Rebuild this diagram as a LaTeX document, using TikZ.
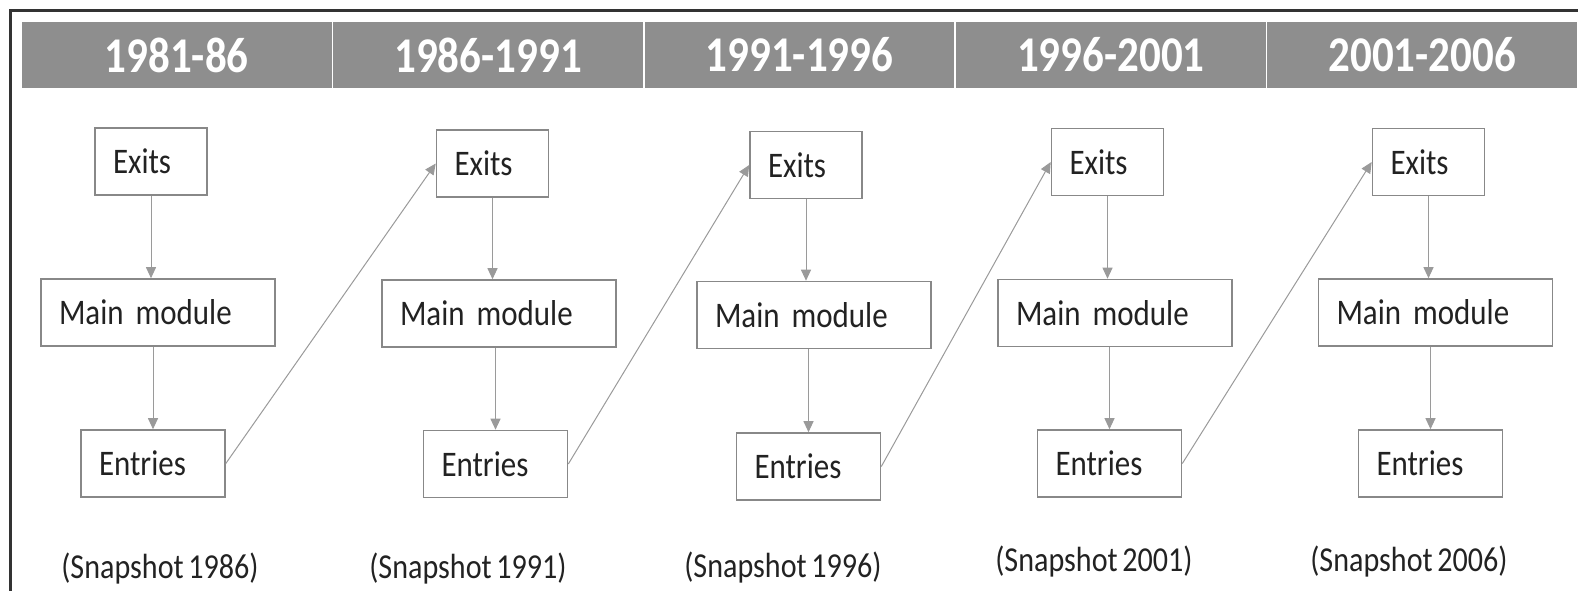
\documentclass[tikz,border=0pt]{standalone}
\usepackage{fontspec}
\setmainfont{Carlito}[FakeStretch=0.86,WordSpace=0.7]
\usetikzlibrary{arrows.meta}
\definecolor{hdr}{HTML}{8E8E8E}
\definecolor{boxc}{HTML}{888888}
\definecolor{arrc}{HTML}{9A9A9A}
\definecolor{txt}{HTML}{222222}
\definecolor{frm}{HTML}{333333}
\begin{document}
\begin{tikzpicture}[x=1pt,y=-1pt,
  box/.style={draw=boxc, line width=1.6pt, fill=white, minimum height=67pt,
    inner xsep=18pt, align=left, font=\fontsize{36}{40}\selectfont, text=txt},
  exitbox/.style={box, text width=76pt},
  mainbox/.style={box, text width=198pt},
  entrybox/.style={box, text width=108pt},
  hcell/.style={fill=hdr, draw=white, line width=1.5pt, minimum width=311.4pt,
    minimum height=68pt, inner sep=0pt, text=white,
    font=\fontsize{50}{54}\selectfont\bfseries},
  snap/.style={text=txt, font=\fontsize{35}{40}\selectfont, inner sep=0pt},
  arr/.style={draw=arrc, line width=1pt, -{Triangle[length=11pt,width=10pt]}},
  frame/.style={draw=frm, line width=2.5pt}]
\useasboundingbox (0,0) rectangle (1578,590);
\clip (0,0) rectangle (1578,590);
% frame
\draw[frame] (1580,10.5) -- (10.5,10.5) -- (10.5,592);
% header
\node[hcell] (h1) at (176.7,55) {1981-86};
\node[hcell] (h2) at (488.1,55) {1986-1991};
\node[hcell] (h3) at (799.5,55) {1991-1996};
\node[hcell] (h4) at (1110.9,55) {1996-2001};
\node[hcell] (h5) at (1422.3,55) {2001-2006};
% boxes
\node[exitbox]  (x1) at (151,161.5) {Exits};
\node[mainbox]  (m1) at (158,312.5) {Main module};
\node[entrybox] (n1) at (153,463.5) {Entries};
\node[exitbox]  (x2) at (492.5,163.5) {Exits};
\node[mainbox]  (m2) at (499,313.5) {Main module};
\node[entrybox] (n2) at (495.5,464) {Entries};
\node[exitbox]  (x3) at (806,165) {Exits};
\node[mainbox]  (m3) at (814,315) {Main module};
\node[entrybox] (n3) at (808.5,466.5) {Entries};
\node[exitbox]  (x4) at (1107.5,162) {Exits};
\node[mainbox]  (m4) at (1115,313) {Main module};
\node[entrybox] (n4) at (1109.5,463.5) {Entries};
\node[exitbox]  (x5) at (1428.5,162) {Exits};
\node[mainbox]  (m5) at (1435.5,312.5) {Main module};
\node[entrybox] (n5) at (1430.5,463.5) {Entries};
% snapshot labels
\node[snap] (s1) at (160,569) {(Snapshot 1986)};
\node[snap] (s2) at (468,569) {(Snapshot 1991)};
\node[snap] (s3) at (783,568) {(Snapshot 1996)};
\node[snap] (s4) at (1094,562) {(Snapshot 2001)};
\node[snap] (s5) at (1409,562) {(Snapshot 2006)};
% vertical arrows
\foreach \i in {1,...,5}{
  \draw[arr] (x\i.south) -- (x\i.south |- m\i.north);
  \draw[arr] (n\i.north |- m\i.south) -- (n\i.north);
}
% diagonal arrows
\foreach \i/\j in {1/2,2/3,3/4,4/5}{
  \draw[arr] (n\i.east) -- (x\j.west);
}
\end{tikzpicture}
\end{document}
